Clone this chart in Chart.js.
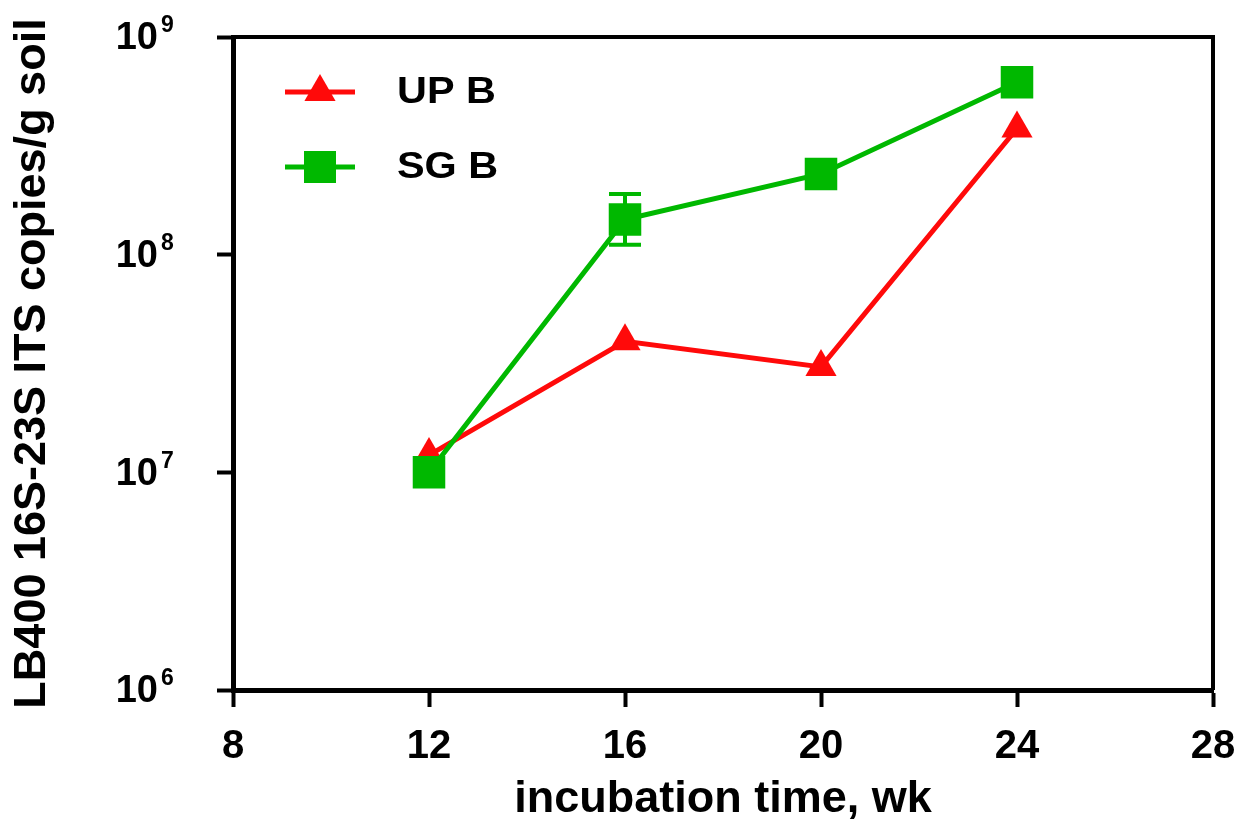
<!DOCTYPE html>
<html>
<head>
<meta charset="utf-8">
<script src="https://cdn.jsdelivr.net/npm/chart.js@4.4.1/dist/chart.umd.min.js"></script>
<style>
  body { margin: 0; background: #fff; }
</style>
</head>
<body>
<canvas id="itsChart" width="1253" height="835"></canvas>
<script>
const weeks = [12, 16, 20, 24];
const upB = [1.2e7, 4.0e7, 3.05e7, 3.8e8];
const sgB = [1.0e7, 1.45e8, 2.35e8, 6.2e8];
const sgLow = [null, 1.11e8, null, null];
const sgHigh = [null, 1.9e8, null, null];
const xTicks = [8, 12, 16, 20, 24, 28];
const yTicks = [1e6, 1e7, 1e8, 1e9];

const RED = '#ff0a0a';
const GREEN = '#00b800';
const FONT = "'Liberation Sans', Arial, sans-serif";

// error bars, box frame, y tick labels with exponents, legend inside plot
const extras = {
    id: 'extras',
    afterDatasetsDraw(chart) {
        const { ctx, scales } = chart;
        const x = scales.x, y = scales.y;

        // error bars for SG B
        ctx.save();
        ctx.strokeStyle = GREEN;
        ctx.lineWidth = 4;
        weeks.forEach((w, i) => {
            if (sgLow[i] == null) return;
            const px = x.getPixelForValue(w);
            const yl = y.getPixelForValue(sgLow[i]);
            const yh = y.getPixelForValue(sgHigh[i]);
            ctx.beginPath();
            ctx.moveTo(px, yl); ctx.lineTo(px, yh);
            ctx.moveTo(px - 16, yl); ctx.lineTo(px + 16, yl);
            ctx.moveTo(px - 16, yh); ctx.lineTo(px + 16, yh);
            ctx.stroke();
        });
        ctx.restore();
    },
    afterDraw(chart) {
        const { ctx, chartArea, scales } = chart;
        const y = scales.y;

        // top and right frame
        ctx.save();
        ctx.strokeStyle = '#000';
        ctx.lineWidth = 4;
        ctx.beginPath();
        ctx.moveTo(chartArea.left, chartArea.top);
        ctx.lineTo(chartArea.right, chartArea.top);
        ctx.lineTo(chartArea.right, chartArea.bottom);
        ctx.stroke();

        // y tick labels 10^n
        ctx.fillStyle = '#000';
        ctx.textBaseline = 'middle';
        yTicks.forEach(v => {
            const py = y.getPixelForValue(v);
            const exp = Math.round(Math.log10(v));
            ctx.font = 'bold 38px ' + FONT;
            ctx.textAlign = 'right';
            ctx.fillText('10', 158, py + 2);
            ctx.font = 'bold 23px ' + FONT;
            ctx.textAlign = 'left';
            ctx.fillText(String(exp), 161, py - 11);
        });

        // legend
        const items = [
            { label: 'UP B', color: RED, style: 'triangle', dy: 55 },
            { label: 'SG B', color: GREEN, style: 'rect', dy: 130 }
        ];
        items.forEach(it => {
            const ly = chartArea.top + it.dy;
            const lx0 = chartArea.left + 52, lx1 = chartArea.left + 122;
            const cx = (lx0 + lx1) / 2;
            ctx.strokeStyle = it.color;
            ctx.fillStyle = it.color;
            ctx.lineWidth = 5;
            ctx.beginPath();
            ctx.moveTo(lx0, ly); ctx.lineTo(lx1, ly);
            ctx.stroke();
            ctx.beginPath();
            if (it.style === 'triangle') {
                const r = 18;
                ctx.moveTo(cx, ly - r);
                ctx.lineTo(cx + r * 0.866, ly + r / 2);
                ctx.lineTo(cx - r * 0.866, ly + r / 2);
                ctx.closePath();
            } else {
                ctx.rect(cx - 16, ly - 16, 32, 32);
            }
            ctx.fill();
            ctx.save();
            ctx.translate(chartArea.left + 164, ly + 1);
            ctx.scale(1.15, 1);
            ctx.fillStyle = '#000';
            ctx.font = 'bold 36px ' + FONT;
            ctx.textAlign = 'left';
            ctx.textBaseline = 'middle';
            ctx.fillText(it.label, 0, 0);
            ctx.restore();
        });
        ctx.restore();
    }
};

const ctx = document.getElementById('itsChart').getContext('2d');

const chart = new Chart(ctx, {
    type: 'line',
    data: {
        datasets: [{
            label: 'UP B',
            data: weeks.map((w, i) => ({ x: w, y: upB[i] })),
            borderColor: RED,
            backgroundColor: RED,
            borderWidth: 5,
            pointStyle: 'triangle',
            pointRadius: 18,
            pointBorderWidth: 0,
            tension: 0,
            order: 1
        }, {
            label: 'SG B',
            data: weeks.map((w, i) => ({ x: w, y: sgB[i] })),
            borderColor: GREEN,
            backgroundColor: GREEN,
            borderWidth: 5,
            pointStyle: 'rect',
            pointRadius: 23,
            pointBorderWidth: 0,
            tension: 0,
            order: 0
        }]
    },
    options: {
        responsive: false,
        animation: false,
        devicePixelRatio: 1,
        layout: { padding: { top: 37, right: 40, left: 0, bottom: 0 } },
        plugins: {
            legend: { display: false },
            tooltip: { enabled: false }
        },
        scales: {
            x: {
                type: 'linear',
                min: 8,
                max: 28,
                afterBuildTicks: s => { s.ticks = xTicks.map(v => ({ value: v })); },
                afterFit: s => { s.height = 145; },
                grid: {
                    drawOnChartArea: false,
                    drawTicks: true,
                    tickLength: 17,
                    tickWidth: 4,
                    tickColor: '#000'
                },
                border: { display: true, color: '#000', width: 5 },
                ticks: {
                    color: '#000',
                    padding: 16,
                    maxRotation: 0,
                    font: { family: FONT, size: 40, weight: 'bold' }
                },
                title: {
                    display: true,
                    text: 'incubation time, wk',
                    color: '#000',
                    font: { family: FONT, size: 45, weight: 'bold' },
                    padding: { top: 0, bottom: 8 }
                }
            },
            y: {
                type: 'logarithmic',
                min: 1e6,
                max: 1e9,
                afterBuildTicks: s => { s.ticks = yTicks.map(v => ({ value: v })); },
                afterFit: s => { s.width = 233; },
                grid: {
                    drawOnChartArea: false,
                    drawTicks: true,
                    tickLength: 16,
                    tickWidth: 4,
                    tickColor: '#000'
                },
                border: { display: true, color: '#000', width: 5 },
                ticks: { display: false },
                title: {
                    display: true,
                    text: 'LB400 16S-23S ITS copies/g soil',
                    color: '#000',
                    font: { family: FONT, size: 45, weight: 'bold' },
                    padding: { top: 6, bottom: 0 }
                }
            }
        }
    },
    plugins: [extras]
});
</script>
</body>
</html>
